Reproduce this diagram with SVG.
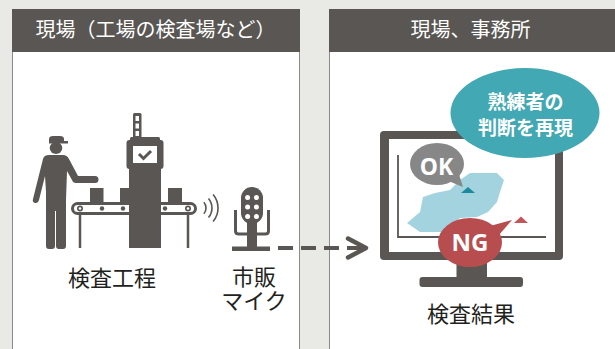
<svg xmlns="http://www.w3.org/2000/svg" width="615" height="349" viewBox="0 0 615 349">
  <style>
    .panel { fill: #ffffff; stroke: #8a8a88; stroke-width: 1; }
    .head { fill: #595653; }
    .htext { font-family: "Noto Sans CJK JP", "Noto Sans", sans-serif; font-size: 20px; fill: #ffffff; text-anchor: middle; }
    .label { font-family: "Noto Sans CJK JP", "Noto Sans", sans-serif; font-size: 22px; fill: #231f20; text-anchor: middle; }
    .ink { fill: #595653; }
    .line { fill: none; stroke: #595653; }
    .badge { font-family: "Noto Sans", "Liberation Sans", sans-serif; font-weight: 700; fill: #ffffff; text-anchor: middle; }
    .bubbletext { font-family: "Noto Sans CJK JP", "Noto Sans", sans-serif; font-weight: 700; font-size: 19px; fill: #ffffff; text-anchor: middle; }
  </style>

  <rect width="615" height="349" fill="#e9eae6"/>

  <!-- left panel: the shop floor -->
  <g id="panel-site">
    <rect class="panel" x="12.5" y="9.5" width="287" height="350"/>
    <rect class="head" x="12" y="9" width="288" height="43"/>
    <text class="htext" x="155.5" y="37">現場（工場の検査場など）</text>
  </g>

  <!-- right panel: site / office -->
  <g id="panel-office">
    <rect class="panel" x="329.5" y="9.5" width="300" height="350"/>
    <rect class="head" x="329" y="9" width="300" height="43"/>
    <text class="htext" x="470.5" y="37">現場、事務所</text>
  </g>

  <!-- inspection process: worker, conveyor and inspection tower -->
  <g id="node-inspection">
    <!-- worker -->
    <path class="ink" d="M49,142 L49,139 Q49,136 53,136 L60,136 Q64,136 64,139 L64,141 L68,141 L68,143.5 L49,143.5 Z"/>
    <ellipse class="ink" cx="56" cy="148" rx="6.3" ry="6"/>
    <path class="ink" d="M43,159 Q44,155 49,155 L63,155 Q67,155 69,159 L78,176 L95,176 Q98.5,176 98.5,179.5 Q98.5,183 95,183 L76,183 Q73,183 72,180 L67,171 L66,200 L66,246 Q66,249 63,249 L59,249 Q56,249 56,246 L56,211 L55,211 L55,246 Q55,249 52,249 L49,249 Q46,249 46,246 L46,192 L45,176 L39,200 Q38,203.5 35,203 Q32,202 33,199 Z"/>
    <!-- boxes on the belt -->
    <rect class="ink" x="90" y="188" width="13.5" height="15"/>
    <rect class="ink" x="120" y="188" width="11" height="15"/>
    <rect class="ink" x="168" y="188" width="14" height="15"/>
    <!-- conveyor belt -->
    <rect x="72.5" y="203.5" width="123" height="10" rx="5" fill="#ffffff" stroke="#595653" stroke-width="3"/>
    <circle class="ink" cx="102" cy="208.5" r="2.2"/>
    <circle class="ink" cx="123" cy="208.5" r="2.2"/>
    <circle class="ink" cx="165" cy="208.5" r="2.2"/>
    <circle class="ink" cx="80" cy="208.5" r="3"/>
    <circle cx="80" cy="208.5" r="1.3" fill="#ffffff"/>
    <circle class="ink" cx="188" cy="208.5" r="3"/>
    <circle cx="188" cy="208.5" r="1.3" fill="#ffffff"/>
    <line class="line" x1="80" y1="213" x2="80" y2="248" stroke-width="2.5"/>
    <line class="line" x1="188" y1="213" x2="188" y2="248" stroke-width="2.5"/>
    <!-- inspection tower -->
    <rect class="ink" x="133" y="113" width="8.5" height="26" rx="1.5"/>
    <rect x="135.5" y="116" width="3.5" height="5" fill="#ffffff"/>
    <rect x="135.5" y="123.5" width="3.5" height="5" fill="#ffffff"/>
    <rect x="135.5" y="131" width="3.5" height="5" fill="#ffffff"/>
    <rect class="ink" x="130" y="137" width="30" height="5" rx="1.5"/>
    <rect class="ink" x="126.5" y="140" width="37" height="29" rx="3"/>
    <rect class="ink" x="129" y="165" width="32" height="83"/>
    <rect x="133" y="146" width="24" height="17" fill="#ffffff"/>
    <polyline class="line" points="139,154 143.5,158.5 151,151" stroke-width="3" stroke-linejoin="miter"/>
    <!-- transmission waves -->
    <path class="line" stroke-width="1.6" d="M203.9,202.2 A9,9 0 0 1 203.9,213.8 M208.5,198.4 A15,15 0 0 1 208.5,217.6 M213.1,194.5 A21,21 0 0 1 213.1,221.5"/>
    <text class="label" x="112" y="286">検査工程</text>
  </g>

  <!-- commercial microphone -->
  <g id="node-mic">
    <rect class="ink" x="241" y="187" width="22" height="37" rx="11"/>
    <circle cx="247.6" cy="197.5" r="2.5" fill="#ffffff"/>
    <circle cx="256.4" cy="197.5" r="2.5" fill="#ffffff"/>
    <circle cx="247.6" cy="207" r="2.5" fill="#ffffff"/>
    <circle cx="256.4" cy="207" r="2.5" fill="#ffffff"/>
    <circle cx="247.6" cy="216.5" r="2.5" fill="#ffffff"/>
    <circle cx="256.4" cy="216.5" r="2.5" fill="#ffffff"/>
    <path class="line" stroke-width="3" d="M235.5,210 L235.5,231 Q235.5,234 239,234 L265,234 Q268.5,234 268.5,231 L268.5,210"/>
    <rect class="ink" x="247" y="222" width="10" height="26"/>
    <rect class="ink" x="232" y="246.5" width="38" height="4.5"/>
    <text class="label" x="254" y="285">市販<tspan x="254" y="309">マイク</tspan></text>
  </g>

  <!-- inspection result on the monitor -->
  <g id="node-result">
    <rect class="ink" x="380" y="131" width="183" height="129" rx="4"/>
    <rect x="389" y="139" width="166" height="113" fill="#ffffff"/>
    <rect class="ink" x="456.5" y="259" width="30.5" height="19"/>
    <rect class="ink" x="419.5" y="277" width="103.5" height="10" rx="3"/>
    <polyline class="line" points="398,155 398,237 546,237" stroke-width="1.8"/>
    <polygon fill="#a4d3e0" points="470,173 497,173 504,180 500,192 497,202 488,212 477,217 460,218 442,232 420,232 407,223 420,212 423,197 435,193 450,190 460,180"/>
    <polygon fill="#1b8a9c" points="468,187 475,193 461,193"/>
    <polygon fill="#c4565b" points="521,216.5 528,223 514,223"/>
    <!-- OK bubble -->
    <ellipse cx="437" cy="164" rx="27" ry="21" fill="#878787"/>
    <polygon fill="#878787" points="446,180 458,171 463,187"/>
    <text class="badge" x="436.5" y="175" font-size="23">OK</text>
    <!-- NG bubble -->
    <ellipse cx="470" cy="242.5" rx="32" ry="24.5" fill="#b84d50"/>
    <polygon fill="#b84d50" points="490,226 499,235 512,220"/>
    <text class="badge" x="470" y="250.5" font-size="24">NG</text>
    <text class="label" x="471" y="322">検査結果</text>
  </g>

  <!-- expert judgement callout -->
  <g id="node-expert">
    <ellipse cx="525" cy="113" rx="74.5" ry="45" fill="#42a8b3"/>
    <text class="bubbletext" x="525.5" y="109">熟練者の<tspan x="525.5" y="135">判断を再現</tspan></text>
  </g>

  <!-- connectors -->
  <g id="connectors">
    <line class="line" x1="278" y1="248" x2="362" y2="248" stroke-width="4.2" stroke-dasharray="15 8"/>
    <polyline class="line" points="348,238.5 366,248 348,257.5" stroke-width="4.5" stroke-linecap="round" stroke-linejoin="round"/>
  </g>
</svg>
